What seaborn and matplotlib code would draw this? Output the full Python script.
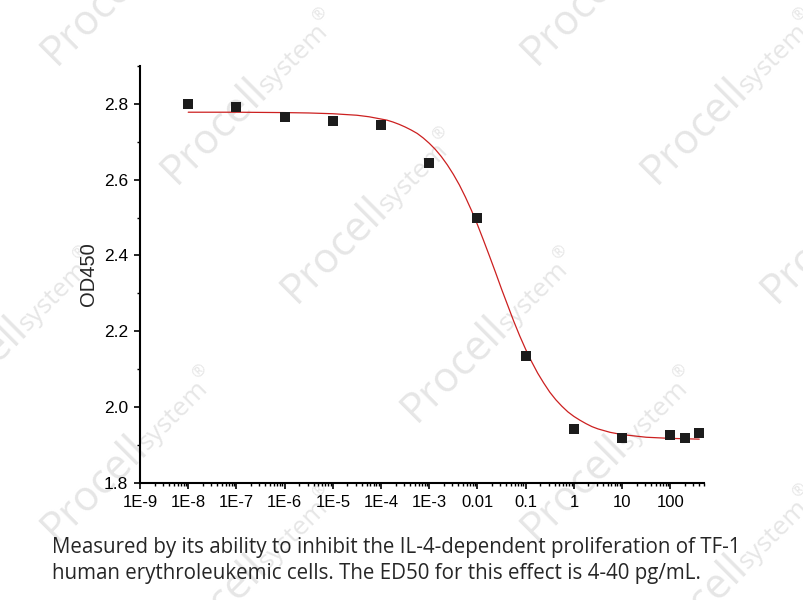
import numpy as np
import pandas as pd
import matplotlib
matplotlib.use("Agg")
import matplotlib.pyplot as plt
import seaborn as sns
from matplotlib.ticker import FixedLocator, LogLocator, NullFormatter, MultipleLocator
from matplotlib.textpath import TextPath
from matplotlib.font_manager import FontProperties

# measured points: concentration (ng/mL) vs OD450
conc = [1e-8, 1e-7, 1e-6, 1e-5, 1e-4, 1e-3, 0.01, 0.1, 1, 10, 100, 200, 400]
od450 = [2.801, 2.793, 2.766, 2.756, 2.743, 2.644, 2.499, 2.135, 1.942, 1.918, 1.927, 1.919, 1.932]

# fitted dose-response curve (log10 conc, OD450)
fit_logx = [-8, -7, -6, -5.5, -5, -4.5, -4.25,
            -4, -3.875, -3.75, -3.625, -3.5, -3.375, -3.25, -3.125,
            -3, -2.875, -2.75, -2.625, -2.5, -2.375, -2.25, -2.125,
            -2, -1.875, -1.75, -1.625, -1.5, -1.375, -1.25, -1.125,
            -1, -0.875, -0.75, -0.625, -0.5, -0.375, -0.25, -0.125,
            0, 0.125, 0.25, 0.375, 0.5, 0.75, 1, 1.5, 2, 2.6]
fit_od = [2.778, 2.778, 2.777, 2.776, 2.774, 2.770, 2.766,
          2.760, 2.757, 2.752, 2.746, 2.739, 2.731, 2.722, 2.710,
          2.696, 2.680, 2.661, 2.639, 2.614, 2.586, 2.554, 2.519,
          2.481, 2.440, 2.398, 2.355, 2.311, 2.269, 2.227, 2.188,
          2.152, 2.119, 2.089, 2.063, 2.039, 2.019, 2.002, 1.987,
          1.975, 1.965, 1.956, 1.948, 1.942, 1.933, 1.927, 1.920, 1.917, 1.915]

xtick_vals = [1e-9, 1e-8, 1e-7, 1e-6, 1e-5, 1e-4, 1e-3, 0.01, 0.1, 1, 10, 100]
xtick_labels = ["1E-9", "1E-8", "1E-7", "1E-6", "1E-5", "1E-4", "1E-3", "0.01", "0.1", "1", "10", "100"]
ytick_vals = [1.8, 2.0, 2.2, 2.4, 2.6, 2.8]
ytick_labels = ["1.8", "2.0", "2.2", "2.4", "2.6", "2.8"]

caption_lines = [
    "Measured by its ability to inhibit the IL-4-dependent proliferation of TF-1",
    "human erythroleukemic cells. The ED50 for this effect is 4-40 pg/mL.",
]

sns.set_style("ticks")
plt.rcParams["font.family"] = ["Liberation Sans", "DejaVu Sans"]

W, H = 804, 600
fig = plt.figure(figsize=(W / 100, H / 100), dpi=100)
ax = fig.add_axes([140 / W, 1 - 482.7 / H, 564 / W, 416.7 / H])
ax.patch.set_alpha(0)
ax.set_zorder(1)

# faint "Procell system" watermarks behind the chart
wm_color = "#e6e6e6"
wm_font = FontProperties(family="Open Sans")
big, small, reg = 30, 19, 12
px = 100 / 72
w_big = TextPath((0, 0), "Procell", size=big * px, prop=wm_font).get_extents().width
w_small = TextPath((0, 0), "system", size=small * px, prop=wm_font).get_extents().width
ang = np.deg2rad(45)
d = np.array([np.cos(ang), np.sin(ang)])
n = np.array([-np.sin(ang), np.cos(ang)])
for i in range(-4, 7):
    for j in range(-2, 3):
        cx = 260 + 120 * i + 480 * j
        cy = 97 + 119 * i
        start = np.array([cx - 84, H - (cy + 88)])
        end = start + d * (w_big + w_small + 20)
        if max(start[0], end[0]) < 0 or min(start[0], end[0]) > W:
            continue
        if max(start[1], end[1]) < 0 or min(start[1], end[1]) > H:
            continue
        p2 = start + d * (w_big + 5)
        p3 = p2 + d * (w_small + 3) + n * 14
        for pos, txt, fs in [(start, "Procell", big), (p2, "system", small), (p3, "\u00ae", reg)]:
            fig.text(pos[0] / W, pos[1] / H, txt, fontsize=fs, color=wm_color, rotation=45,
                     rotation_mode="anchor", va="baseline", ha="left", fontproperties=wm_font,
                     zorder=0)

ax.set_xscale("log")
sns.lineplot(x=10 ** np.array(fit_logx), y=fit_od, color="#cc2020", linewidth=0.9, ax=ax, zorder=2)
sns.scatterplot(x=conc, y=od450, marker="s", s=58, color="#1c1c1c", linewidth=0, ax=ax, zorder=3)

ax.set_xlim(1e-9, 500)
ax.set_ylim(1.8, 2.9)

ax.xaxis.set_major_locator(FixedLocator(xtick_vals))
ax.set_xticklabels(xtick_labels)
ax.xaxis.set_minor_locator(LogLocator(base=10, subs=np.arange(2, 10), numticks=40))
ax.xaxis.set_minor_formatter(NullFormatter())
ax.set_yticks(ytick_vals)
ax.set_yticklabels(ytick_labels)
ax.yaxis.set_minor_locator(MultipleLocator(0.1))

sns.despine(ax=ax)
for side in ["left", "bottom"]:
    ax.spines[side].set_linewidth(1.5)
    ax.spines[side].set_color("black")
ax.tick_params(which="major", direction="out", length=4.5, width=1.2, labelsize=12,
               colors="black", pad=4)
ax.tick_params(axis="y", which="major", labelsize=12.5)
ax.tick_params(which="minor", direction="out", length=2.5, width=1.0, colors="black")
ax.set_xlabel("")
ax.set_ylabel("OD450", fontsize=14.5, labelpad=4)

for k, line in enumerate(caption_lines):
    fig.text(52 / W, 1 - (553 + 26 * k) / H, line, fontsize=14.8, family="Open Sans",
             color="#262626", va="baseline", ha="left", zorder=3)

fig.savefig("out.png", dpi=100)
